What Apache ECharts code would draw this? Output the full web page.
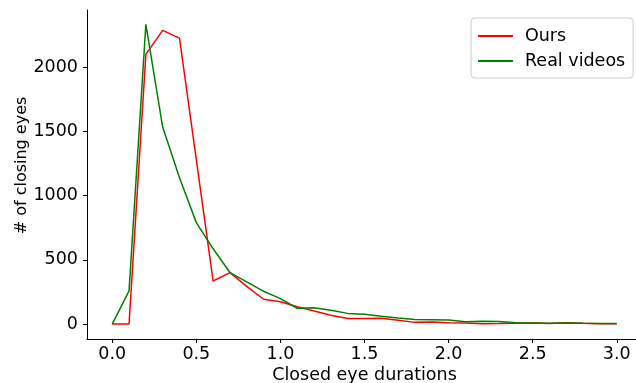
<!DOCTYPE html>
<html>
<head>
<meta charset="utf-8">
<script src="https://cdn.jsdelivr.net/npm/echarts@6/dist/echarts.min.js"></script>
<style>html,body{margin:0;padding:0;background:#fff}#c{width:636px;height:383px}</style>
</head>
<body>
<div id="c"></div>
<script>
var durations = [0.0,0.1,0.2,0.3,0.4,0.5,0.6,0.7,0.8,0.9,1.0,1.1,1.2,1.3,1.4,1.5,1.6,1.7,1.8,1.9,2.0,2.1,2.2,2.3,2.4,2.5,2.6,2.7,2.8,2.9,3.0];
var ours = [0,0,2100,2287,2227,1280,335,400,294,193,174,134,101,68,44,44,46,30,13,15,10,8,3,4,6,8,5,10,6,3,3];
var realVideos = [0,258,2334,1534,1140,790,586,401,328,255,198,123,127,107,83,76,60,47,36,34,31,18,21,19,10,8,6,8,6,5,5];
var xTicks = [0,0.5,1.0,1.5,2.0,2.5,3.0];
var yTicks = [0,500,1000,1500,2000];

function pairs(xs, ys){ return xs.map(function(x,i){return [x, ys[i]];}); }
var font = 'DejaVu Sans';
var fs = 17.5;
var chart = echarts.init(document.getElementById('c'), null, {renderer:'canvas'});
chart.setOption({
  animation:false,
  backgroundColor:'#ffffff',
  textStyle:{fontFamily:font},
  grid:{left:87, top:10, width:555, height:329, containLabel:false, outerBoundsMode:'none'},
  legend:{
    orient:'vertical', left:471, top:18,
    padding:[9,8,8,7],
    backgroundColor:'#ffffff', borderColor:'#cccccc', borderWidth:1, borderRadius:4,
    icon:'rect', itemWidth:35, itemHeight:2, itemGap:7,
    textStyle:{fontFamily:font, fontSize:fs, color:'#000', padding:[0,0,0,7]},
    data:['Ours','Real videos']
  },
  xAxis:{
    type:'value', min:-0.15, max:3.15,
    name:'Closed eye durations', nameLocation:'middle', nameGap:27, nameMoveOverlap:false,
    nameTextStyle:{fontFamily:font, fontSize:fs, color:'#000'},
    splitLine:{show:false},
    axisLine:{show:true, onZero:false, lineStyle:{color:'#000', width:1}},
    axisTick:{show:true, length:4, customValues:xTicks, lineStyle:{color:'#000'}},
    axisLabel:{customValues:xTicks, fontFamily:font, fontSize:fs, color:'#000', margin:6,
      formatter:function(v){return v.toFixed(1);}}
  },
  yAxis:{
    type:'value', min:-116.5, max:2446,
    name:'# of closing eyes', nameLocation:'middle', nameGap:57, nameRotate:90, nameMoveOverlap:false,
    nameTextStyle:{fontFamily:font, fontSize:16, color:'#000', padding:[0,0,0,18]},
    splitLine:{show:false},
    axisLine:{show:true, onZero:false, lineStyle:{color:'#000', width:1}},
    axisTick:{show:true, length:4, customValues:yTicks, lineStyle:{color:'#000'}},
    axisLabel:{customValues:yTicks, fontFamily:font, fontSize:fs, color:'#000', margin:9,
      formatter:function(v){return String(v);}}
  },
  series:[
    {name:'Ours', type:'line', symbol:'none', data:pairs(durations, ours),
     lineStyle:{color:'#ff0000', width:1.5}, itemStyle:{color:'#ff0000'}},
    {name:'Real videos', type:'line', symbol:'none', data:pairs(durations, realVideos),
     lineStyle:{color:'#008000', width:1.5}, itemStyle:{color:'#008000'}}
  ]
});
</script>
</body>
</html>
